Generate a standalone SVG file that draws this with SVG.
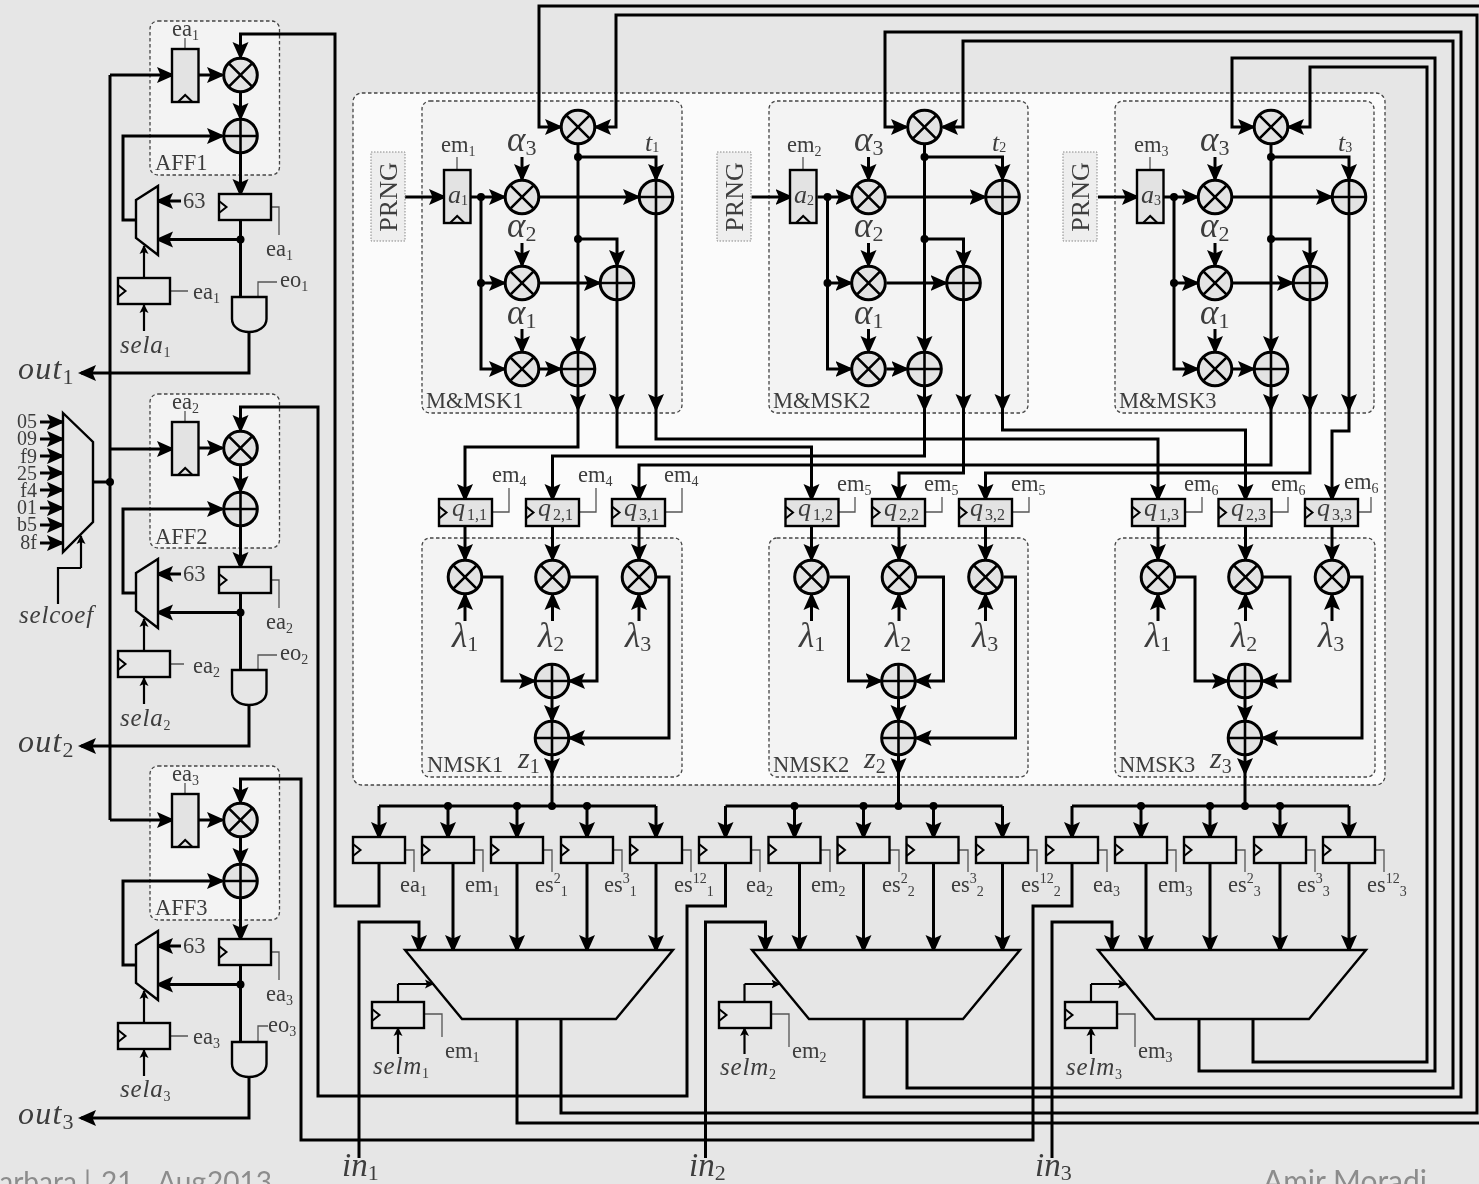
<svg xmlns="http://www.w3.org/2000/svg" width="1479" height="1184" viewBox="0 0 1479 1184">
<style>
.t{font-family:"Liberation Serif",serif;fill:#3c3c3c}
.l{font-size:22.500px}
.s{font-size:14px}
.i{font-style:italic}
.g{font-size:35px;font-style:italic}
.d{font-size:22px;font-style:normal}
.z{font-size:30px;font-style:italic}
.z2{font-size:20px;font-style:normal}
.foot{font-family:"Lato","Open Sans",sans-serif;font-size:30px;fill:#8c8c8c}
.w path{fill:none;stroke:#000;stroke-width:3;stroke-linejoin:miter}
.w path.a{marker-end:url(#a)}
.w path.n{stroke-width:2.2;marker-end:url(#sm)}
.w path.p{stroke-width:2.2}
.th path{fill:none;stroke:#555;stroke-width:1.3}
.box{stroke:#444;stroke-width:1.3;stroke-dasharray:3.5 2.5}
.c{fill:#e3e3e3;stroke:#000;stroke-width:3}
.x{fill:none;stroke:#000;stroke-width:2.6}
.r{fill:#e6e6e6;stroke:#000;stroke-width:2.4}
.q{fill:#e3e3e3;stroke:#000;stroke-width:2.4}
.k{fill:none;stroke:#000;stroke-width:2}
.dot{fill:#000}
</style>
<defs>
<filter id="soft" x="0" y="0" width="1" height="1"><feGaussianBlur stdDeviation="0.4"/></filter>
<marker id="a" markerUnits="userSpaceOnUse" markerWidth="19" markerHeight="17" refX="15" refY="8.500" orient="auto"><path d="M0,0.5 L18,8.5 L0,16.5 L3.500,8.500Z" fill="#000"/></marker>
<marker id="sm" markerUnits="userSpaceOnUse" markerWidth="10" markerHeight="10" refX="8" refY="5" orient="auto"><path d="M0,0.5 L9,5 L0,9.5 L2,5Z" fill="#000"/></marker>
<g id="mul"><circle class="c" r="16.8"/><path class="x" d="M-11.9,-11.9L11.9,11.9M-11.9,11.9L11.9,-11.9"/></g>
<g id="add"><circle class="c" r="16.8"/><path class="x" d="M-16.8,0H16.8M0,-16.8V16.8"/></g>
<g id="reg"><rect class="r" width="52" height="26"/><path class="k" d="M0,7L7.5,13L0,19"/></g>
<g id="qreg"><rect class="q" width="53" height="27"/><path class="k" d="M0,7.5L7.5,13.5L0,19.5"/></g>
<g id="vreg"><rect class="q" width="26.500" height="53"/><path class="k" d="M6,53L13.200,46L20.500,53"/></g>
<g id="smux"><path class="r" d="M136,200L158,186V255L136,238Z"/></g>
<g id="and"><path class="r" d="M232,297H266.500V319C266.500,327 258,332 249,332C240,332 232,327 232,319Z"/></g>
<g id="dot"><circle class="dot" r="4"/></g>
<g id="aff-w" class="w">
<path class="a" d="M198,75H222"/><path class="a" d="M240.500,93V118"/>
<path class="a" d="M136,220H123V136H222"/><path class="a" d="M240.500,154V194"/>
<path d="M240.500,220V297"/><path class="a" d="M240.500,239.500H158"/><path class="a" d="M181,201H158"/>
<path class="n" d="M144,278V246"/><path class="n" d="M144,331V305"/>
<path class="a" d="M249,332V373H81"/>
</g>
<g id="mm-w" class="w">
<path class="a" d="M405,197H444"/><path class="a" d="M471,197H504"/>
<path class="a" d="M481,197V369H504"/><path class="a" d="M481,283H504"/>
<path class="a" d="M522,157V179"/><path class="a" d="M522,243V265"/><path class="a" d="M522,329V351"/>
<path class="a" d="M540,197H638"/><path class="a" d="M540,283H599"/><path class="a" d="M540,369H560"/>
<path class="a" d="M578,145V351"/><path class="a" d="M578,157H656V179"/><path class="a" d="M578,239H617V265"/>
<path class="a" d="M578,387V409"/><path class="a" d="M617,301V409"/><path class="a" d="M656,215V409"/>
</g>
<g id="nm-w" class="w">
<path class="a" d="M465,526V559"/><path class="a" d="M552.500,526V559"/><path class="a" d="M639,526V559"/>
<path class="a" d="M465,621V595"/><path class="a" d="M552.500,621V595"/><path class="a" d="M639,621V595"/>
<path class="a" d="M483,577H502V681H534"/><path class="a" d="M570,577H597V681H570"/>
<path class="a" d="M657,577H669V738H570"/>
<path class="a" d="M552,699V720"/><path class="a" d="M552,756V773"/>
<path d="M552,773V806H379"/><path d="M552,806H656"/>
<path class="a" d="M379,806V837"/><path class="a" d="M448,806V837"/><path class="a" d="M517,806V837"/><path class="a" d="M587,806V837"/><path class="a" d="M656,806V837"/>
<path class="a" d="M453,863V950"/><path class="a" d="M517,863V950"/><path class="a" d="M587,863V950"/><path class="a" d="M656,863V950"/>
<path class="a" d="M359,1158V922H419V950"/>
<path class="p" d="M398,1002V984"/><path class="n" d="M398,984H433"/><path class="n" d="M398,1054V1028"/>
</g>
</defs>
<g id="diagram" filter="url(#soft)">
<rect width="1479" height="1184" fill="#e6e6e6"/>
<g id="frames">
<rect class="box" x="353" y="93" width="1032" height="692" rx="9" fill="#fbfbfb"/>
<rect class="box" x="150" y="21" width="129.500" height="154" rx="8" fill="#f3f3f3"/>
<rect class="box" x="150" y="394" width="129.500" height="154" rx="8" fill="#f3f3f3"/>
<rect class="box" x="150" y="766" width="129.500" height="154" rx="8" fill="#f3f3f3"/>
<rect class="box" x="422" y="101" width="260" height="312" rx="8" fill="#f3f3f3"/>
<rect class="box" x="769" y="101" width="259" height="312" rx="8" fill="#f3f3f3"/>
<rect class="box" x="1115" y="101" width="259" height="312" rx="8" fill="#f3f3f3"/>
<rect class="box" x="422" y="538" width="260" height="239" rx="8" fill="#f3f3f3"/>
<rect class="box" x="769" y="538" width="259" height="239" rx="8" fill="#f3f3f3"/>
<rect class="box" x="1115" y="538" width="260" height="239" rx="8" fill="#f3f3f3"/>
</g>
<g id="connectors" class="w">
<use href="#aff-w"/><use href="#aff-w" transform="translate(0,373)"/><use href="#aff-w" transform="translate(0,745)"/>
<use href="#mm-w"/><use href="#mm-w" transform="translate(346.500,0)"/><use href="#mm-w" transform="translate(693,0)"/>
<use href="#nm-w"/><use href="#nm-w" transform="translate(346.500,0)"/><use href="#nm-w" transform="translate(693,0)"/>
<path d="M110,75V820M93,482H110"/>
<path class="a" d="M110,75H172"/><path class="a" d="M110,449H172"/><path class="a" d="M110,820H172"/>
<path class="a" d="M40,422H62"/><path class="a" d="M40,439H62"/><path class="a" d="M40,456H62"/><path class="a" d="M40,473H62"/><path class="a" d="M40,490H62"/><path class="a" d="M40,508H62"/><path class="a" d="M40,525H62"/><path class="a" d="M40,543H62"/>
<path class="p" d="M58,604V568H81"/><path class="n" d="M81,568V536"/>
<path class="a" d="M379,863V906H335V34H240.500V57"/>
<path class="a" d="M725.500,863V906H687V1096H318V407H240.500V430"/>
<path class="a" d="M1072,863V906H1033V1140H301V779H240.500V802"/>
<path class="a" d="M517,1019V1123H1490V6H539V127H560"/>
<path class="a" d="M561,1019V1113H1477V15H616V127H596"/>
<path class="a" d="M864,1019V1097H1461V32H885V127H906"/>
<path class="a" d="M907,1019V1088H1453V41H963V127H943"/>
<path class="a" d="M1199,1019V1071H1435V58H1232V127H1253"/>
<path class="a" d="M1253,1019V1062H1427V67H1310V127H1289"/>
<path d="M578,409V447H465V499" class="a"/>
<path d="M617,409V447H811.500V499" class="a"/>
<path d="M656,409V439H1158V499" class="a"/>
<path d="M924.500,409V456H552.500V499" class="a"/>
<path d="M963.500,409V473H899V499" class="a"/>
<path d="M1002.500,409V430H1245.500V499" class="a"/>
<path d="M1271,409V465H639V499" class="a"/>
<path d="M1310,409V473H985.500V499" class="a"/>
<path d="M1349,409V431H1332V499" class="a"/>
</g>
<g id="leaders" class="th">
<path d="M185,38V49M270,207H279V235M170,291H188M258,297V282H277"/>
<path d="M185,411V422M270,580H279V608M170,664H184M258,670V655H277"/>
<path d="M185,783V794M270,952H279V980M170,1036H188M258,1042V1026H268"/>
<path d="M457,157V170M803,157V170M1150,157V170"/>
<path d="M492,512H509V488M579,512H596V488M665,512H682V488M838,512H855V497M925,512H942V497M1012,512H1029V497M1185,512H1202V497M1271,512H1288V497M1358,512H1371V497"/>
<path d="M405,850H414V872M474,850H483V872M543,850H552V872M613,850H622V872M682,850H691V872"/>
<path d="M751,850H760V872M821,850H830V872M890,850H899V872M959,850H968V872M1028,850H1037V872"/>
<path d="M1098,850H1107V872M1167,850H1176V872M1236,850H1245V872M1306,850H1315V872M1375,850H1384V872"/>
<path d="M424,1014H442V1037M772,1014H789V1047M1118,1014H1135V1047"/>
</g>
<g id="coef-mux"><path class="r" d="M63,413L93,442V522L63,552Z"/><use href="#dot" x="110" y="482"/>
<text class="t" font-size="20" text-anchor="end"><tspan x="37" y="428">05</tspan><tspan x="37" y="445">09</tspan><tspan x="37" y="463">f9</tspan><tspan x="37" y="480">25</tspan><tspan x="37" y="497">f4</tspan><tspan x="37" y="514">01</tspan><tspan x="37" y="531">b5</tspan><tspan x="37" y="549">8f</tspan></text>
<text class="t i" x="19" y="623" font-size="25" letter-spacing="0.800">selcoef</text></g>

<g id="aff1">
<text class="t l" x="155" y="170">AFF1</text>
<g id="aff1-coef"><use href="#vreg" x="172" y="49"/><text class="t l" x="172" y="36">ea<tspan class="s" dy="4">1</tspan></text></g>
<g id="aff1-mul"><use href="#mul" x="240.500" y="75"/></g>
<g id="aff1-add"><use href="#add" x="240.500" y="136"/></g>
<g id="aff1-reg"><use href="#reg" x="219" y="194"/><use href="#dot" x="240.500" y="239.500"/><text class="t l" x="266" y="256">ea<tspan class="s" dy="4">1</tspan></text></g>
<g id="aff1-mux"><use href="#smux"/><text class="t l" x="183" y="208">63</text></g>
<g id="aff1-sel"><use href="#reg" x="118" y="278"/><text class="t l" x="193" y="299">ea<tspan class="s" dy="4">1</tspan></text><text class="t i" x="120" y="353" font-size="25" letter-spacing="0.800">sela<tspan class="s" dy="4" font-style="normal">1</tspan></text></g>
<g id="aff1-and"><use href="#and"/><text class="t l" x="280" y="287">eo<tspan class="s" dy="4">1</tspan></text></g>
<text id="out1" class="t i" x="18" y="379" font-size="32" letter-spacing="1.200">out<tspan class="d" dy="5">1</tspan></text>
</g>
<g id="aff2">
<text class="t l" x="155" y="544">AFF2</text>
<g id="aff2-coef"><use href="#vreg" x="172" y="422"/><text class="t l" x="172" y="409">ea<tspan class="s" dy="4">2</tspan></text></g>
<g id="aff2-mul"><use href="#mul" x="240.500" y="448"/></g>
<g id="aff2-add"><use href="#add" x="240.500" y="509"/></g>
<g id="aff2-reg"><use href="#reg" x="219" y="567"/><use href="#dot" x="240.500" y="612.500"/><text class="t l" x="266" y="629">ea<tspan class="s" dy="4">2</tspan></text></g>
<g id="aff2-mux"><use href="#smux" y="373"/><text class="t l" x="183" y="581">63</text></g>
<g id="aff2-sel"><use href="#reg" x="118" y="651"/><text class="t l" x="193" y="673">ea<tspan class="s" dy="4">2</tspan></text><text class="t i" x="120" y="726" font-size="25" letter-spacing="0.800">sela<tspan class="s" dy="4" font-style="normal">2</tspan></text></g>
<g id="aff2-and"><use href="#and" y="373"/><text class="t l" x="280" y="660">eo<tspan class="s" dy="4">2</tspan></text></g>
<text id="out2" class="t i" x="18" y="752" font-size="32" letter-spacing="1.200">out<tspan class="d" dy="5">2</tspan></text>
</g>
<g id="aff3">
<text class="t l" x="155" y="915">AFF3</text>
<g id="aff3-coef"><use href="#vreg" x="172" y="794"/><text class="t l" x="172" y="781">ea<tspan class="s" dy="4">3</tspan></text></g>
<g id="aff3-mul"><use href="#mul" x="240.500" y="820"/></g>
<g id="aff3-add"><use href="#add" x="240.500" y="881"/></g>
<g id="aff3-reg"><use href="#reg" x="219" y="939"/><use href="#dot" x="240.500" y="984.500"/><text class="t l" x="266" y="1001">ea<tspan class="s" dy="4">3</tspan></text></g>
<g id="aff3-mux"><use href="#smux" y="745"/><text class="t l" x="183" y="953">63</text></g>
<g id="aff3-sel"><use href="#reg" x="118" y="1023"/><text class="t l" x="193" y="1044">ea<tspan class="s" dy="4">3</tspan></text><text class="t i" x="120" y="1097" font-size="25" letter-spacing="0.800">sela<tspan class="s" dy="4" font-style="normal">3</tspan></text></g>
<g id="aff3-and"><use href="#and" y="745"/><text class="t l" x="268" y="1032">eo<tspan class="s" dy="4">3</tspan></text></g>
<text id="out3" class="t i" x="18" y="1124" font-size="32" letter-spacing="1.200">out<tspan class="d" dy="5">3</tspan></text>
</g>

<g id="mmsk1">
<g id="prng1"><rect x="371" y="152" width="34" height="89" fill="#eee" stroke="#888" stroke-width="1" stroke-dasharray="1.500 1.500"/><text class="t" font-size="26" text-anchor="middle" transform="translate(397,197) rotate(-90)">PRNG</text></g>
<g id="a1"><use href="#vreg" x="444" y="170"/><text class="t i" x="448" y="203" font-size="26">a<tspan class="s" dy="2" font-style="normal">1</tspan></text><text class="t l" x="441" y="152">em<tspan class="s" dy="4">1</tspan></text></g>
<g id="m1-top"><use href="#mul" x="578" y="127"/></g>
<g id="m1-a3"><use href="#mul" x="522" y="197"/><text class="t g" x="507" y="151">α<tspan class="d" dy="4">3</tspan></text></g>
<g id="m1-a2"><use href="#mul" x="522" y="283"/><text class="t g" x="507" y="237">α<tspan class="d" dy="4">2</tspan></text></g>
<g id="m1-a1"><use href="#mul" x="522" y="369"/><text class="t g" x="507" y="324">α<tspan class="d" dy="4">1</tspan></text></g>
<g id="m1-s1"><use href="#add" x="656" y="197"/><text class="t i" x="645" y="151" font-size="26">t<tspan class="s" dy="1" font-size="18" font-style="normal">1</tspan></text></g>
<g id="m1-s2"><use href="#add" x="617" y="283"/></g>
<g id="m1-s3"><use href="#add" x="578" y="369"/></g>
<use href="#dot" x="481" y="197"/><use href="#dot" x="481" y="283"/><use href="#dot" x="578" y="157"/><use href="#dot" x="578" y="239"/>
<text class="t l" x="426" y="408">M&amp;MSK1</text>
</g>
<g id="mmsk2">
<g id="prng2"><rect x="717" y="152" width="34" height="89" fill="#eee" stroke="#888" stroke-width="1" stroke-dasharray="1.500 1.500"/><text class="t" font-size="26" text-anchor="middle" transform="translate(743,197) rotate(-90)">PRNG</text></g>
<g id="a2"><use href="#vreg" x="790" y="170"/><text class="t i" x="794" y="203" font-size="26">a<tspan class="s" dy="2" font-style="normal">2</tspan></text><text class="t l" x="787" y="152">em<tspan class="s" dy="4">2</tspan></text></g>
<g id="m2-top"><use href="#mul" x="924.500" y="127"/></g>
<g id="m2-a3"><use href="#mul" x="868.500" y="197"/><text class="t g" x="854" y="151">α<tspan class="d" dy="4">3</tspan></text></g>
<g id="m2-a2"><use href="#mul" x="868.500" y="283"/><text class="t g" x="854" y="237">α<tspan class="d" dy="4">2</tspan></text></g>
<g id="m2-a1"><use href="#mul" x="868.500" y="369"/><text class="t g" x="854" y="324">α<tspan class="d" dy="4">1</tspan></text></g>
<g id="m2-s1"><use href="#add" x="1002.500" y="197"/><text class="t i" x="992" y="151" font-size="26">t<tspan class="s" dy="1" font-size="18" font-style="normal">2</tspan></text></g>
<g id="m2-s2"><use href="#add" x="963.500" y="283"/></g>
<g id="m2-s3"><use href="#add" x="924.500" y="369"/></g>
<use href="#dot" x="827.500" y="197"/><use href="#dot" x="827.500" y="283"/><use href="#dot" x="924.500" y="157"/><use href="#dot" x="924.500" y="239"/>
<text class="t l" x="773" y="408">M&amp;MSK2</text>
</g>
<g id="mmsk3">
<g id="prng3"><rect x="1063" y="152" width="34" height="89" fill="#eee" stroke="#888" stroke-width="1" stroke-dasharray="1.500 1.500"/><text class="t" font-size="26" text-anchor="middle" transform="translate(1089,197) rotate(-90)">PRNG</text></g>
<g id="a3"><use href="#vreg" x="1137" y="170"/><text class="t i" x="1141" y="203" font-size="26">a<tspan class="s" dy="2" font-style="normal">3</tspan></text><text class="t l" x="1134" y="152">em<tspan class="s" dy="4">3</tspan></text></g>
<g id="m3-top"><use href="#mul" x="1271" y="127"/></g>
<g id="m3-a3"><use href="#mul" x="1215" y="197"/><text class="t g" x="1200" y="151">α<tspan class="d" dy="4">3</tspan></text></g>
<g id="m3-a2"><use href="#mul" x="1215" y="283"/><text class="t g" x="1200" y="237">α<tspan class="d" dy="4">2</tspan></text></g>
<g id="m3-a1"><use href="#mul" x="1215" y="369"/><text class="t g" x="1200" y="324">α<tspan class="d" dy="4">1</tspan></text></g>
<g id="m3-s1"><use href="#add" x="1349" y="197"/><text class="t i" x="1338" y="151" font-size="26">t<tspan class="s" dy="1" font-size="18" font-style="normal">3</tspan></text></g>
<g id="m3-s2"><use href="#add" x="1310" y="283"/></g>
<g id="m3-s3"><use href="#add" x="1271" y="369"/></g>
<use href="#dot" x="1174" y="197"/><use href="#dot" x="1174" y="283"/><use href="#dot" x="1271" y="157"/><use href="#dot" x="1271" y="239"/>
<text class="t l" x="1119" y="408">M&amp;MSK3</text>
</g>

<g id="qregs">
<g id="q11"><use href="#qreg" x="439" y="499"/><text class="t i" x="452" y="516" font-size="26">q<tspan font-size="16" font-style="normal" dx="2" dy="4">1,1</tspan></text><text class="t l" x="492" y="482">em<tspan class="s" dy="4">4</tspan></text></g>
<g id="q21"><use href="#qreg" x="526" y="499"/><text class="t i" x="538" y="516" font-size="26">q<tspan font-size="16" font-style="normal" dx="2" dy="4">2,1</tspan></text><text class="t l" x="578" y="482">em<tspan class="s" dy="4">4</tspan></text></g>
<g id="q31"><use href="#qreg" x="612" y="499"/><text class="t i" x="624" y="516" font-size="26">q<tspan font-size="16" font-style="normal" dx="2" dy="4">3,1</tspan></text><text class="t l" x="664" y="482">em<tspan class="s" dy="4">4</tspan></text></g>
<g id="q12"><use href="#qreg" x="785.500" y="499"/><text class="t i" x="798" y="516" font-size="26">q<tspan font-size="16" font-style="normal" dx="2" dy="4">1,2</tspan></text><text class="t l" x="837" y="491">em<tspan class="s" dy="4">5</tspan></text></g>
<g id="q22"><use href="#qreg" x="872" y="499"/><text class="t i" x="884" y="516" font-size="26">q<tspan font-size="16" font-style="normal" dx="2" dy="4">2,2</tspan></text><text class="t l" x="924" y="491">em<tspan class="s" dy="4">5</tspan></text></g>
<g id="q32"><use href="#qreg" x="959" y="499"/><text class="t i" x="970" y="516" font-size="26">q<tspan font-size="16" font-style="normal" dx="2" dy="4">3,2</tspan></text><text class="t l" x="1011" y="491">em<tspan class="s" dy="4">5</tspan></text></g>
<g id="q13"><use href="#qreg" x="1132" y="499"/><text class="t i" x="1144" y="516" font-size="26">q<tspan font-size="16" font-style="normal" dx="2" dy="4">1,3</tspan></text><text class="t l" x="1184" y="491">em<tspan class="s" dy="4">6</tspan></text></g>
<g id="q23"><use href="#qreg" x="1218.500" y="499"/><text class="t i" x="1231" y="516" font-size="26">q<tspan font-size="16" font-style="normal" dx="2" dy="4">2,3</tspan></text><text class="t l" x="1271" y="491">em<tspan class="s" dy="4">6</tspan></text></g>
<g id="q33"><use href="#qreg" x="1305" y="499"/><text class="t i" x="1317" y="516" font-size="26">q<tspan font-size="16" font-style="normal" dx="2" dy="4">3,3</tspan></text><text class="t l" x="1344" y="489">em<tspan class="s" dy="4">6</tspan></text></g>
</g>

<g id="nmsk1">
<g id="n1-l1"><use href="#mul" x="465" y="577"/><text class="t g" x="452" y="647">λ<tspan class="d" dy="4">1</tspan></text></g>
<g id="n1-l2"><use href="#mul" x="552.500" y="577"/><text class="t g" x="538" y="647">λ<tspan class="d" dy="4">2</tspan></text></g>
<g id="n1-l3"><use href="#mul" x="639" y="577"/><text class="t g" x="625" y="647">λ<tspan class="d" dy="4">3</tspan></text></g>
<g id="n1-s1"><use href="#add" x="552" y="681"/></g>
<g id="n1-s2"><use href="#add" x="552" y="738"/></g>
<text class="t l" x="427" y="772">NMSK1</text>
<text class="t z" x="518" y="768">z<tspan class="z2" dy="5">1</tspan></text>
</g>
<g id="nmsk2">
<g id="n2-l1"><use href="#mul" x="811.500" y="577"/><text class="t g" x="799" y="647">λ<tspan class="d" dy="4">1</tspan></text></g>
<g id="n2-l2"><use href="#mul" x="899" y="577"/><text class="t g" x="885" y="647">λ<tspan class="d" dy="4">2</tspan></text></g>
<g id="n2-l3"><use href="#mul" x="985.500" y="577"/><text class="t g" x="972" y="647">λ<tspan class="d" dy="4">3</tspan></text></g>
<g id="n2-s1"><use href="#add" x="898.500" y="681"/></g>
<g id="n2-s2"><use href="#add" x="898.500" y="738"/></g>
<text class="t l" x="773" y="772">NMSK2</text>
<text class="t z" x="864" y="768">z<tspan class="z2" dy="5">2</tspan></text>
</g>
<g id="nmsk3">
<g id="n3-l1"><use href="#mul" x="1158" y="577"/><text class="t g" x="1145" y="647">λ<tspan class="d" dy="4">1</tspan></text></g>
<g id="n3-l2"><use href="#mul" x="1245.500" y="577"/><text class="t g" x="1231" y="647">λ<tspan class="d" dy="4">2</tspan></text></g>
<g id="n3-l3"><use href="#mul" x="1332" y="577"/><text class="t g" x="1318" y="647">λ<tspan class="d" dy="4">3</tspan></text></g>
<g id="n3-s1"><use href="#add" x="1245" y="681"/></g>
<g id="n3-s2"><use href="#add" x="1245" y="738"/></g>
<text class="t l" x="1119" y="772">NMSK3</text>
<text class="t z" x="1210" y="768">z<tspan class="z2" dy="5">3</tspan></text>
</g>

<g id="bus1">
<use href="#dot" x="552" y="806"/><use href="#dot" x="448" y="806"/><use href="#dot" x="517" y="806"/><use href="#dot" x="587" y="806"/>
<g id="b1-ea"><use href="#reg" x="353" y="837"/><text class="t l" x="400" y="892">ea<tspan class="s" dy="4">1</tspan></text></g>
<g id="b1-em"><use href="#reg" x="422" y="837"/><text class="t l" x="465" y="892">em<tspan class="s" dy="4">1</tspan></text></g>
<g id="b1-es2"><use href="#reg" x="491" y="837"/><text class="t l" x="535" y="892">es<tspan class="s" dy="-9">2</tspan><tspan class="s" dy="13">1</tspan></text></g>
<g id="b1-es3"><use href="#reg" x="561" y="837"/><text class="t l" x="604" y="892">es<tspan class="s" dy="-9">3</tspan><tspan class="s" dy="13">1</tspan></text></g>
<g id="b1-es12"><use href="#reg" x="630" y="837"/><text class="t l" x="674" y="892">es<tspan class="s" dy="-9">12</tspan><tspan class="s" dy="13">1</tspan></text></g>
</g>
<g id="bus2">
<use href="#dot" x="898.500" y="806"/><use href="#dot" x="794.500" y="806"/><use href="#dot" x="863.500" y="806"/><use href="#dot" x="933.500" y="806"/>
<g id="b2-ea"><use href="#reg" x="699" y="837"/><text class="t l" x="746" y="892">ea<tspan class="s" dy="4">2</tspan></text></g>
<g id="b2-em"><use href="#reg" x="768.500" y="837"/><text class="t l" x="811" y="892">em<tspan class="s" dy="4">2</tspan></text></g>
<g id="b2-es2"><use href="#reg" x="837.500" y="837"/><text class="t l" x="882" y="892">es<tspan class="s" dy="-9">2</tspan><tspan class="s" dy="13">2</tspan></text></g>
<g id="b2-es3"><use href="#reg" x="906.500" y="837"/><text class="t l" x="951" y="892">es<tspan class="s" dy="-9">3</tspan><tspan class="s" dy="13">2</tspan></text></g>
<g id="b2-es12"><use href="#reg" x="976" y="837"/><text class="t l" x="1021" y="892">es<tspan class="s" dy="-9">12</tspan><tspan class="s" dy="13">2</tspan></text></g>
</g>
<g id="bus3">
<use href="#dot" x="1245" y="806"/><use href="#dot" x="1141" y="806"/><use href="#dot" x="1210" y="806"/><use href="#dot" x="1280" y="806"/>
<g id="b3-ea"><use href="#reg" x="1046" y="837"/><text class="t l" x="1093" y="892">ea<tspan class="s" dy="4">3</tspan></text></g>
<g id="b3-em"><use href="#reg" x="1115" y="837"/><text class="t l" x="1158" y="892">em<tspan class="s" dy="4">3</tspan></text></g>
<g id="b3-es2"><use href="#reg" x="1184" y="837"/><text class="t l" x="1228" y="892">es<tspan class="s" dy="-9">2</tspan><tspan class="s" dy="13">3</tspan></text></g>
<g id="b3-es3"><use href="#reg" x="1254" y="837"/><text class="t l" x="1297" y="892">es<tspan class="s" dy="-9">3</tspan><tspan class="s" dy="13">3</tspan></text></g>
<g id="b3-es12"><use href="#reg" x="1323" y="837"/><text class="t l" x="1367" y="892">es<tspan class="s" dy="-9">12</tspan><tspan class="s" dy="13">3</tspan></text></g>
</g>

<g id="mux1"><path class="r" d="M405,950H673L616,1019H462Z"/>
<g id="sel1"><use href="#reg" x="372" y="1002"/><text class="t l" x="445" y="1058">em<tspan class="s" dy="4">1</tspan></text><text class="t i" x="373" y="1074" font-size="25" letter-spacing="0.800">selm<tspan class="s" dy="4" font-style="normal">1</tspan></text></g></g>
<g id="mux2"><path class="r" d="M752,950H1020L963,1019H809Z"/>
<g id="sel2"><use href="#reg" x="719" y="1002"/><text class="t l" x="792" y="1058">em<tspan class="s" dy="4">2</tspan></text><text class="t i" x="720" y="1075" font-size="25" letter-spacing="0.800">selm<tspan class="s" dy="4" font-style="normal">2</tspan></text></g></g>
<g id="mux3"><path class="r" d="M1098,950H1366L1309,1019H1155Z"/>
<g id="sel3"><use href="#reg" x="1065" y="1002"/><text class="t l" x="1138" y="1058">em<tspan class="s" dy="4">3</tspan></text><text class="t i" x="1066" y="1075" font-size="25" letter-spacing="0.800">selm<tspan class="s" dy="4" font-style="normal">3</tspan></text></g></g>

<text id="in1" class="t i" x="342" y="1176" font-size="33">in<tspan class="d" dy="4">1</tspan></text>
<text id="in2" class="t i" x="689" y="1176" font-size="33">in<tspan class="d" dy="4">2</tspan></text>
<text id="in3" class="t i" x="1035" y="1176" font-size="33">in<tspan class="d" dy="4">3</tspan></text>
<text class="foot" y="1192" text-anchor="end" style="font-size:28px"><tspan x="91">arbara |</tspan><tspan x="140">21.</tspan><tspan x="206">Aug</tspan><tspan x="272">2013</tspan></text>
<text class="foot" x="1427" y="1192" text-anchor="end">Amir Moradi</text>
</g>
</svg>
